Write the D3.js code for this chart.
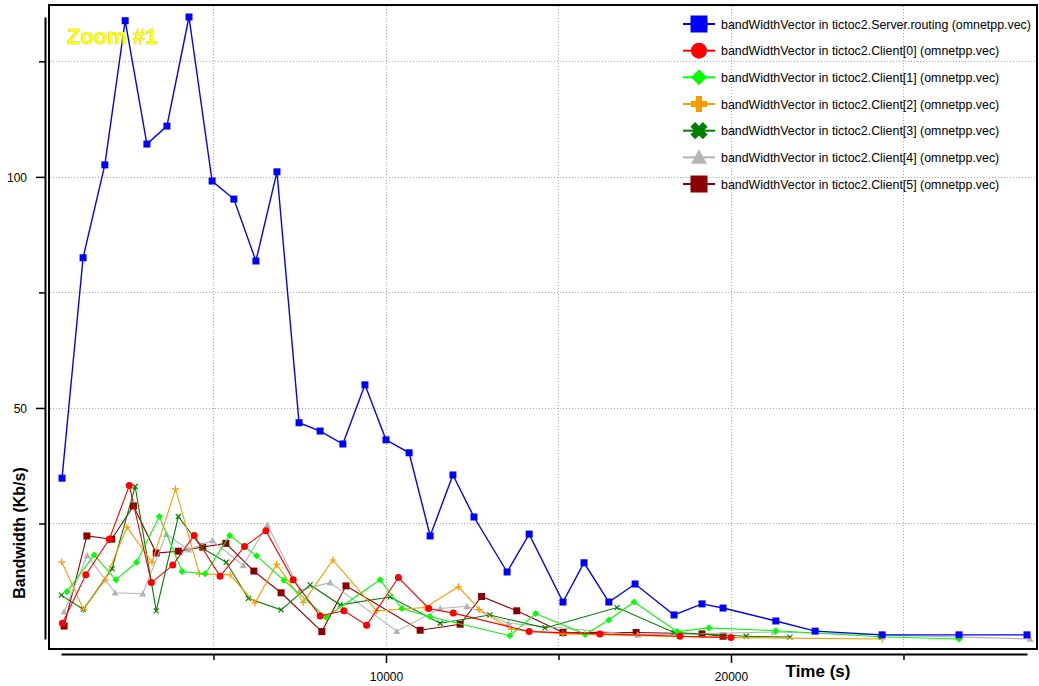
<!DOCTYPE html>
<html>
<head>
<meta charset="utf-8">
<script src="https://cdn.jsdelivr.net/npm/d3@7"></script>
<style>
  body { margin: 0; background: #fff; }
  svg { display: block; font-family: "Liberation Sans", Arial, sans-serif; }
</style>
</head>
<body>
<svg id="chart" width="1039" height="686"></svg>
<script>
// bandwidth vectors (time in s, bandwidth in Kb/s)
const serverTime = [610, 1220, 1850, 2440, 3070, 3650, 4290, 4960, 5590, 6230, 6840, 7480, 8090, 8750, 9390, 10000, 10670, 11280, 11940, 12550, 13510, 14150, 15130, 15740, 16460, 17220, 18350, 19160, 19770, 21300, 22440, 24380, 26610, 28580];
const serverBw = [34.8, 82.5, 102.6, 133.8, 107.1, 111.0, 134.6, 99.1, 95.2, 81.8, 101.1, 46.8, 45.0, 42.2, 55.0, 43.1, 40.3, 22.3, 35.5, 26.4, 14.5, 22.7, 8.0, 16.5, 8.0, 11.9, 5.2, 7.6, 6.7, 3.9, 1.7, 0.9, 0.9, 0.9];

const client0Time = [620, 1300, 1980, 2560, 3200, 3820, 4440, 5190, 5900, 6520, 7310, 8090, 8780, 9440, 10360, 11240, 11950, 14150, 16200, 18520, 20000];
const client0Bw = [3.4, 13.9, 21.6, 33.2, 12.2, 16.0, 22.4, 13.6, 20.0, 23.4, 12.8, 5.0, 6.1, 3.0, 13.3, 6.6, 5.6, 1.6, 1.1, 0.6, 0.3];

const client1Time = [750, 1540, 2170, 2770, 3430, 4090, 4760, 5470, 6250, 7040, 8260, 9830, 10460, 11280, 13590, 14340, 15770, 16460, 17190, 18440, 19360, 21300, 24320, 26610];
const client1Bw = [10.2, 18.2, 12.8, 16.6, 26.5, 14.6, 14.1, 22.4, 18.0, 12.7, 4.7, 12.8, 6.6, 4.8, 0.7, 5.5, 1.0, 4.1, 8.0, 1.6, 2.4, 1.8, 0.5, 0.0];

const client2Time = [600, 1230, 1860, 2490, 3220, 3900, 4590, 5480, 6200, 6830, 7600, 8460, 9730, 11130, 12100, 12700, 13640, 15130, 20000, 24380];
const client2Bw = [16.7, 6.4, 12.8, 24.2, 16.6, 32.5, 14.1, 13.9, 7.8, 16.2, 7.9, 17.1, 6.1, 6.8, 11.3, 6.4, 2.1, 1.1, 0.3, 0.0];

const client3Time = [590, 1230, 2060, 2730, 3340, 3980, 4670, 5370, 6010, 6960, 7800, 8670, 10120, 11570, 13010, 14610, 16700, 18350, 20440, 21710];
const client3Bw = [9.5, 6.4, 15.2, 33.0, 6.1, 26.5, 19.7, 16.6, 8.8, 6.3, 11.7, 7.4, 9.1, 3.4, 5.2, 2.4, 6.8, 1.4, 0.6, 0.4];

const client4Time = [670, 1340, 2150, 2950, 3630, 4280, 4970, 5860, 6560, 7510, 8380, 10310, 11570, 12350, 13550, 17300, 21250, 28670];
const client4Bw = [5.9, 18.1, 10.0, 9.8, 22.7, 19.3, 21.3, 15.9, 24.7, 10.6, 12.2, 1.7, 6.6, 7.1, 3.4, 0.9, 1.5, 0.0];

const client5Time = [670, 1330, 2050, 2680, 3340, 3980, 4690, 5360, 6170, 6960, 8140, 8840, 10990, 12150, 12770, 13790, 15130, 17250, 19160, 19770];
const client5Bw = [2.8, 22.3, 21.6, 28.8, 18.6, 19.0, 19.9, 20.7, 14.7, 10.0, 1.6, 11.5, 1.9, 3.2, 9.2, 6.1, 1.4, 1.4, 1.1, 0.6];

const seriesNames = [
  "bandWidthVector in tictoc2.Server.routing (omnetpp.vec)",
  "bandWidthVector in tictoc2.Client[0] (omnetpp.vec)",
  "bandWidthVector in tictoc2.Client[1] (omnetpp.vec)",
  "bandWidthVector in tictoc2.Client[2] (omnetpp.vec)",
  "bandWidthVector in tictoc2.Client[3] (omnetpp.vec)",
  "bandWidthVector in tictoc2.Client[4] (omnetpp.vec)",
  "bandWidthVector in tictoc2.Client[5] (omnetpp.vec)"
];
const xTicks = [5000, 10000, 15000, 20000, 25000];
const xTickLabels = ["", "10000", "", "20000", ""];
const yTicks = [25, 50, 75, 100, 125];
const yTickLabels = ["", "50", "", "100", ""];

var times = [serverTime, client0Time, client1Time, client2Time, client3Time, client4Time, client5Time];
var values = [serverBw, client0Bw, client1Bw, client2Bw, client3Bw, client4Bw, client5Bw];
var colors = ["#0000ff", "#ff0000", "#00ff00", "#ff9900", "#007f00", "#b4b4b4", "#8b0000"];
var marks = ["square", "circle", "diamond", "plus", "x", "triangle", "square"];

var svg = d3.select("#chart");

var x = d3.scaleLinear().domain([580, 28580]).range([61, 1027]);
var y = d3.scaleLinear().domain([0, 134.6]).range([639, 17]);

// marker shapes, r = half size
function markerPath(kind, r, thick) {
  var p = d3.path();
  if (kind === "square") {
    p.rect(-r, -r, 2 * r, 2 * r);
  } else if (kind === "circle") {
    p.arc(0, 0, r, 0, 2 * Math.PI);
  } else if (kind === "diamond") {
    p.moveTo(0, -r); p.lineTo(r, 0); p.lineTo(0, r); p.lineTo(-r, 0); p.closePath();
  } else if (kind === "triangle") {
    p.moveTo(0, -r); p.lineTo(r, r * 0.8); p.lineTo(-r, r * 0.8); p.closePath();
  } else if ((kind === "plus" || kind === "x") && thick) {
    var w = r * 0.38;
    var pts = [[-w, -r], [w, -r], [w, -w], [r, -w], [r, w], [w, w], [w, r], [-w, r], [-w, w], [-r, w], [-r, -w], [-w, -w]];
    if (kind === "x") {
      var c = Math.cos(Math.PI / 4), s = Math.sin(Math.PI / 4);
      pts = pts.map(function (q) { return [(q[0] * c - q[1] * s) * 1.1, (q[0] * s + q[1] * c) * 1.1]; });
    }
    pts.forEach(function (q, i) { i ? p.lineTo(q[0], q[1]) : p.moveTo(q[0], q[1]); });
    p.closePath();
  } else if (kind === "plus") {
    p.moveTo(-r, 0); p.lineTo(r, 0); p.moveTo(0, -r); p.lineTo(0, r);
  } else {
    p.moveTo(-r, -r); p.lineTo(r, r); p.moveTo(r, -r); p.lineTo(-r, r);
  }
  return p.toString();
}

// grid
var grid = svg.append("g").attr("class", "grid")
  .attr("stroke", "#a8a8a8").attr("stroke-width", 1).attr("stroke-dasharray", "1,2");
grid.selectAll("line.v").data(xTicks).enter().append("line")
  .attr("class", "v")
  .attr("x1", function (d) { return Math.round(x(d)) + 0.5; })
  .attr("x2", function (d) { return Math.round(x(d)) + 0.5; })
  .attr("y1", 6).attr("y2", 648);
grid.selectAll("line.h").data(yTicks).enter().append("line")
  .attr("class", "h")
  .attr("y1", function (d) { return Math.round(y(d)) + 0.5; })
  .attr("y2", function (d) { return Math.round(y(d)) + 0.5; })
  .attr("x1", 50).attr("x2", 1036);

// plot frame
svg.append("rect")
  .attr("x", 49).attr("y", 5).attr("width", 988).attr("height", 644)
  .attr("fill", "none").attr("stroke", "#000").attr("stroke-width", 2);

// series, last client first so the server line sits on top
var line = d3.line()
  .x(function (d) { return x(d[0]); })
  .y(function (d) { return y(d[1]); });

var order = d3.range(seriesNames.length).reverse();
order.forEach(function (k) {
  var pts = times[k].map(function (t, i) { return [t, values[k][i]]; });
  var g = svg.append("g").attr("class", "series");
  g.append("path")
    .datum(pts)
    .attr("d", line)
    .attr("fill", "none")
    .attr("stroke", colors[k])
    .attr("stroke-width", k === 0 ? 1.4 : 1.1);
  var stroked = marks[k] === "plus" || marks[k] === "x";
  g.selectAll("path.mark").data(pts).enter().append("path")
    .attr("class", "mark")
    .attr("transform", function (d) { return "translate(" + x(d[0]) + "," + y(d[1]) + ")"; })
    .attr("d", markerPath(marks[k], marks[k] === "x" ? 2.5 : 3.5, false))
    .attr("fill", stroked ? "none" : colors[k])
    .attr("stroke", stroked ? colors[k] : "none")
    .attr("stroke-width", 1.2);
});

// axes
var yAxis = svg.append("g")
  .attr("transform", "translate(45,0)")
  .call(d3.axisLeft(y).tickValues(yTicks).tickSizeOuter(0)
    .tickFormat(function (d, i) { return yTickLabels[i]; }));
var xAxis = svg.append("g")
  .attr("transform", "translate(0,654)")
  .call(d3.axisBottom(x).tickValues(xTicks).tickSizeOuter(0)
    .tickFormat(function (d, i) { return xTickLabels[i]; }));

[yAxis, xAxis].forEach(function (ax) {
  ax.attr("font-family", "'Liberation Sans', Arial, sans-serif").attr("font-size", 12);
  ax.select(".domain").attr("stroke", "#000").attr("stroke-width", 2);
  ax.selectAll(".tick line").attr("stroke", "#000").attr("stroke-width", 1.5);
  ax.selectAll(".tick text").attr("fill", "#000");
});
yAxis.selectAll(".tick line").attr("x2", function (d, i) { return yTickLabels[i] ? -9 : -6; });
yAxis.selectAll(".tick text").attr("x", -18).attr("dy", "0.36em");
xAxis.selectAll(".tick line").attr("y2", function (d, i) { return xTickLabels[i] ? 9 : 6; });
xAxis.selectAll(".tick text").attr("y", 27).attr("dy", 0);

// axis titles
svg.append("text")
  .attr("transform", "translate(25,533) rotate(-90)")
  .attr("text-anchor", "middle")
  .attr("font-size", 16).attr("font-weight", "bold")
  .text("Bandwidth (Kb/s)");
svg.append("text")
  .attr("x", 818).attr("y", 677)
  .attr("text-anchor", "middle")
  .attr("font-size", 17).attr("font-weight", "bold")
  .text("Time (s)");

// zoom caption
svg.append("text")
  .attr("x", 67).attr("y", 44)
  .attr("font-size", 22).attr("font-weight", "bold")
  .attr("fill", "#ffff00")
  .attr("stroke", "#b8b880").attr("stroke-width", 0.7)
  .attr("paint-order", "stroke")
  .text("Zoom #1");

// legend
var legend = svg.append("g").attr("class", "legend");
var rows = legend.selectAll("g").data(seriesNames).enter().append("g")
  .attr("transform", function (d, i) { return "translate(683," + (24 + i * 26.67) + ")"; });
rows.append("line")
  .attr("x1", 0).attr("x2", 32).attr("y1", 0).attr("y2", 0)
  .attr("stroke", function (d, i) { return colors[i]; })
  .attr("stroke-width", 2);
rows.append("path")
  .attr("transform", "translate(16,0)")
  .attr("d", function (d, i) { return markerPath(marks[i], marks[i] === "square" ? 8.5 : 8, true); })
  .attr("fill", function (d, i) { return colors[i]; });
rows.append("text")
  .attr("x", 38).attr("y", 4.5)
  .attr("font-size", 12.4)
  .attr("fill", "#000")
  .text(function (d) { return d; });
</script>
</body>
</html>
